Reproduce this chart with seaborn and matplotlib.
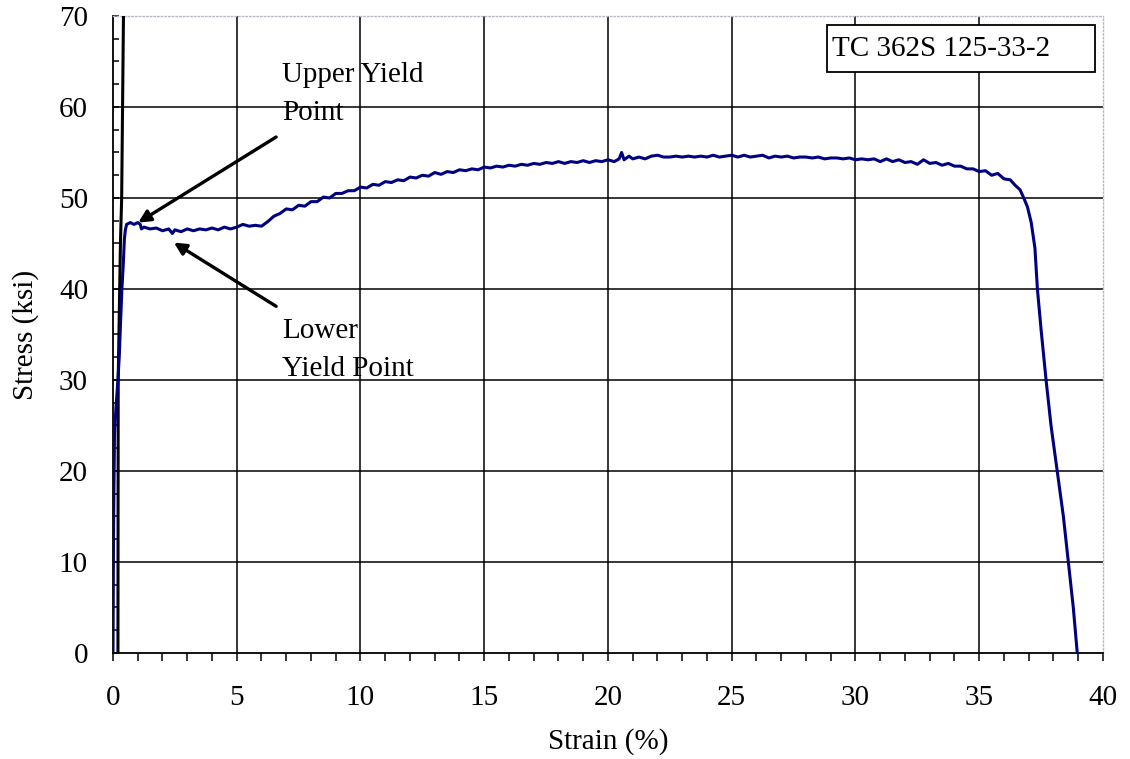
import matplotlib
matplotlib.use("Agg")
import matplotlib.pyplot as plt
from matplotlib.patches import Rectangle
from matplotlib.ticker import MultipleLocator
import seaborn as sns
import pandas as pd

# Tensile test TC 362S 125-33-2: engineering strain (%) vs stress (ksi)
strain_pct = [
    0.00, 0.01, 0.02, 0.04, 0.06, 0.12, 0.20, 0.26, 0.30, 0.36, 0.42, 0.46, 0.50,
    0.55, 0.70, 0.85, 1.00, 1.10, 1.15, 1.25, 1.50, 1.75, 2.00, 2.25, 2.40, 2.50,
    2.75, 3.00, 3.25, 3.50, 3.75, 4.00, 4.25, 4.50, 4.75, 5.00, 5.25, 5.50, 5.75,
    6.00, 6.25, 6.50, 6.75, 7.00, 7.25, 7.50, 7.75, 8.00, 8.25, 8.50, 8.75, 9.00,
    9.25, 9.50, 9.75, 10.00, 10.25, 10.50, 10.75, 11.00, 11.25, 11.50, 11.75,
    12.00, 12.25, 12.50, 12.75, 13.00, 13.25, 13.50, 13.75, 14.00, 14.25, 14.50,
    14.75, 15.00, 15.25, 15.50, 15.75, 16.00, 16.25, 16.50, 16.75, 17.00, 17.25,
    17.50, 17.75, 18.00, 18.25, 18.50, 18.75, 19.00, 19.25, 19.50, 19.75, 20.00,
    20.25, 20.45, 20.55, 20.65, 20.85, 21.00, 21.25, 21.50, 21.75, 22.00, 22.25,
    22.50, 22.75, 23.00, 23.25, 23.50, 23.75, 24.00, 24.25, 24.50, 24.75, 25.00,
    25.25, 25.50, 25.75, 26.00, 26.25, 26.50, 26.75, 27.00, 27.25, 27.50, 27.75,
    28.00, 28.25, 28.50, 28.75, 29.00, 29.25, 29.50, 29.75, 30.00, 30.25, 30.50,
    30.75, 31.00, 31.25, 31.50, 31.75, 32.00, 32.25, 32.50, 32.75, 33.00, 33.25,
    33.50, 33.75, 34.00, 34.25, 34.50, 34.75, 35.00, 35.25, 35.50, 35.75, 36.00,
    36.25, 36.45, 36.65, 36.80, 36.95, 37.10, 37.25, 37.35, 37.50, 37.70, 37.90,
    38.15, 38.40, 38.60, 38.80, 38.96,
]
stress_ksi = [
    0.0, 8.0, 13.0, 19.0, 24.0, 27.0, 30.0, 33.0, 36.0, 40.0, 43.0, 45.5, 46.5,
    47.1, 47.3, 47.1, 47.3, 47.1, 46.6, 46.8, 46.6, 46.7, 46.4, 46.6, 46.1, 46.5,
    46.3, 46.6, 46.4, 46.6, 46.5, 46.7, 46.5, 46.8, 46.6, 46.8, 47.1, 46.9, 47.0,
    46.9, 47.4, 48.0, 48.3, 48.8, 48.7, 49.2, 49.1, 49.6, 49.6, 50.1, 50.0, 50.5,
    50.5, 50.8, 50.8, 51.2, 51.1, 51.5, 51.4, 51.8, 51.7, 52.0, 51.9, 52.3, 52.2,
    52.5, 52.4, 52.8, 52.6, 52.9, 52.8, 53.1, 53.0, 53.2, 53.1, 53.4, 53.3, 53.5,
    53.4, 53.6, 53.5, 53.7, 53.6, 53.8, 53.7, 53.9, 53.8, 54.0, 53.8, 54.0, 53.9,
    54.1, 53.9, 54.1, 54.0, 54.2, 54.0, 54.3, 55.0, 54.2, 54.6, 54.3, 54.5, 54.3,
    54.6, 54.7, 54.5, 54.5, 54.6, 54.5, 54.6, 54.5, 54.6, 54.5, 54.7, 54.5, 54.6,
    54.7, 54.5, 54.7, 54.5, 54.6, 54.7, 54.4, 54.6, 54.5, 54.6, 54.4, 54.5, 54.5,
    54.4, 54.5, 54.3, 54.4, 54.4, 54.3, 54.4, 54.2, 54.3, 54.2, 54.3, 54.0, 54.3,
    54.0, 54.2, 53.9, 54.0, 53.7, 54.2, 53.8, 53.9, 53.6, 53.8, 53.5, 53.5, 53.2,
    53.2, 52.9, 53.0, 52.5, 52.7, 52.1, 52.0, 51.4, 50.9, 50.0, 49.0, 47.3, 44.5,
    40.0, 35.5, 30.0, 25.0, 20.0, 15.0, 10.0, 5.0, 0.0,
]

# Steep companion trace near the origin (runs off the top of the chart)
steep_strain_pct = [0.20, 0.21, 0.30, 0.35, 0.43]
steep_stress_ksi = [0.0, 30.0, 45.0, 50.0, 72.0]

specimen_label = "TC 362S 125-33-2"
x_ticks = [0, 5, 10, 15, 20, 25, 30, 35, 40]
y_ticks = [0, 10, 20, 30, 40, 50, 60, 70]

sns.set_style("white")
plt.rcParams["font.family"] = ["Liberation Serif", "DejaVu Serif"]
plt.rcParams["text.color"] = "black"
plt.rcParams["axes.labelcolor"] = "black"
plt.rcParams["xtick.color"] = "black"
plt.rcParams["ytick.color"] = "black"

fig = plt.figure(figsize=(11.3, 7.59), dpi=100)
ax = fig.add_axes([0.1, 0.13966, 0.8761, 0.83926])

curve = pd.DataFrame({"strain": strain_pct, "stress": stress_ksi})
steep = pd.DataFrame({"strain": steep_strain_pct, "stress": steep_stress_ksi})

# interior gridlines
for xv in x_ticks[1:-1]:
    ax.axvline(xv, color="black", lw=1.1, zorder=1)
for yv in y_ticks[1:-1]:
    ax.axhline(yv, color="black", lw=1.1, zorder=1)

sns.lineplot(data=steep, x="strain", y="stress", sort=False, estimator=None,
             color="black", lw=2.2, ax=ax, zorder=3)
sns.lineplot(data=curve, x="strain", y="stress", sort=False, estimator=None,
             color="#000080", lw=2.2, ax=ax, zorder=4)

ax.set_xlim(0, 40)
ax.set_ylim(0, 70)
ax.set_xticks(x_ticks)
ax.set_yticks(y_ticks)
ax.xaxis.set_minor_locator(MultipleLocator(1))
ax.yaxis.set_minor_locator(MultipleLocator(2.5))
ax.tick_params(axis="x", which="both", direction="out", length=6, width=1.1,
               color="black", labelcolor="black", bottom=True, pad=17, labelsize=21)
ax.tick_params(axis="y", which="both", direction="in", length=4, width=1.1,
               color="black", labelcolor="black", left=True, pad=18, labelsize=21)

for side in ("left", "bottom"):
    ax.spines[side].set_color("black")
    ax.spines[side].set_linewidth(1.3)
for side in ("top", "right"):
    ax.spines[side].set_color("#b8b8c8")
    ax.spines[side].set_linewidth(1.0)
    ax.spines[side].set_linestyle(":")

ax.set_xlabel("Strain (%)", fontsize=21, labelpad=12, color="black")
ax.set_ylabel("Stress (ksi)", fontsize=21, labelpad=14, color="black")

# specimen id box
ax.add_patch(Rectangle((0.7212, 0.912), 0.2707, 0.0739, transform=ax.transAxes,
                       facecolor="white", edgecolor="black", lw=1.3, zorder=5))
ax.text(0.7265, 0.9485, specimen_label, transform=ax.transAxes, fontsize=21,
        va="center", ha="left", zorder=6, color="black")

# yield point call-outs
arrow = dict(arrowstyle="-|>", color="black", lw=2.4, mutation_scale=18,
             shrinkA=0, shrinkB=0)
ax.annotate("", xy=(1.02, 47.3), xytext=(6.59, 56.7), arrowprops=arrow, zorder=6)
ax.annotate("", xy=(2.46, 45.1), xytext=(6.59, 38.1), arrowprops=arrow, zorder=6)
for label, yv in (("Upper Yield", 62.8), ("Point", 58.6),
                  ("Lower", 34.6), ("Yield Point", 30.4)):
    ax.text(6.83, yv, label, fontsize=21, va="baseline", ha="left", color="black")

fig.savefig("out.png", dpi=100, facecolor="white")
